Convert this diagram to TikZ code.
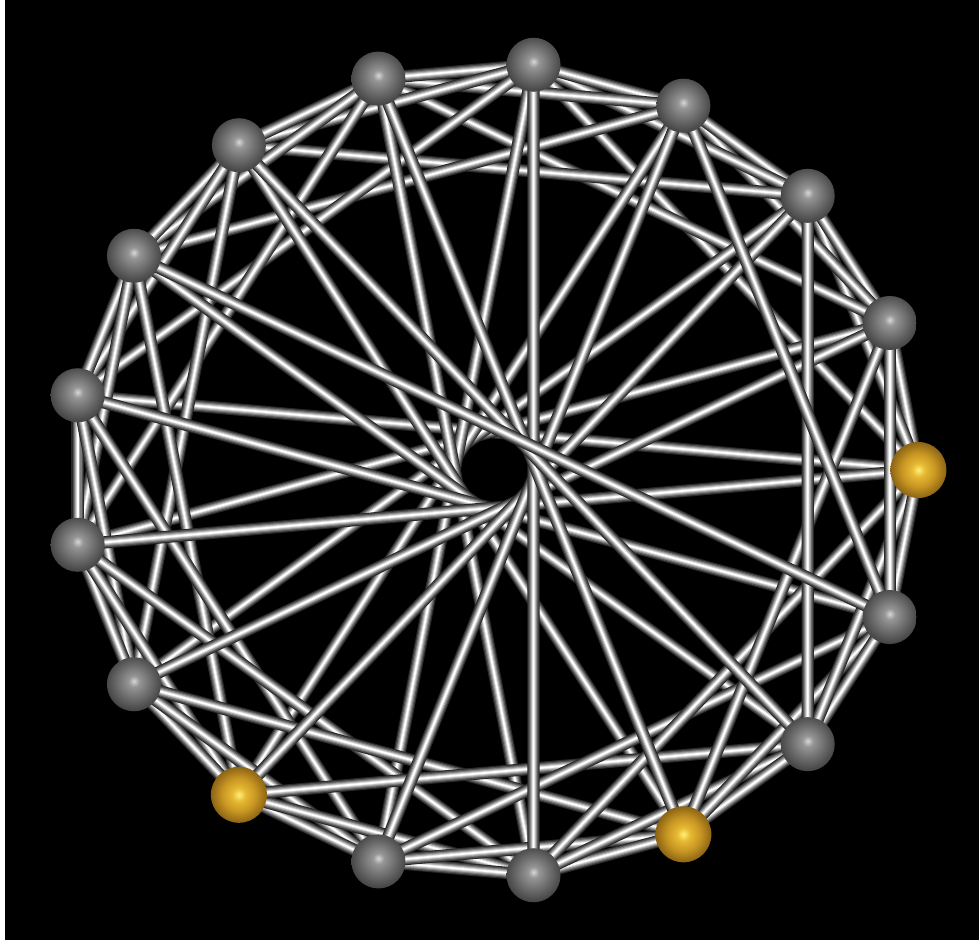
\documentclass[tikz,border=0pt]{standalone}
\pgfdeclarelayer{bg}
\pgfdeclarelayer{edges}
\pgfsetlayers{bg,edges,main}
\definecolor{tubeA}{RGB}{40,40,40}
\definecolor{tubeB}{RGB}{80,80,80}
\definecolor{tubeC}{RGB}{125,125,125}
\definecolor{tubeD}{RGB}{170,170,170}
\definecolor{tubeE}{RGB}{215,215,215}
\definecolor{gsA}{RGB}{215,215,215}
\definecolor{gsB}{RGB}{150,150,150}
\definecolor{gsC}{RGB}{118,118,118}
\definecolor{gsD}{RGB}{72,72,72}
\definecolor{ygA}{RGB}{255,240,120}
\definecolor{ygB}{RGB}{230,185,50}
\definecolor{ygC}{RGB}{200,150,35}
\definecolor{ygD}{RGB}{140,100,20}
\pgfdeclareradialshading{graysph}{\pgfqpoint{0bp}{3bp}}{color(0bp)=(gsA); color(5bp)=(gsB); color(13bp)=(gsC); color(25bp)=(gsD); color(50bp)=(black)}
\pgfdeclareradialshading{goldsph}{\pgfqpoint{0bp}{0bp}}{color(0bp)=(ygA); color(6bp)=(ygB); color(15bp)=(ygC); color(25bp)=(ygD); color(50bp)=(black)}
\begin{document}
\begin{tikzpicture}[x=0.01cm,y=-0.01cm,
  tube/.style={white, line width=0.5pt,
    preaction={draw, tubeA, line width=3.5pt},
    preaction={draw, tubeB, line width=2.9pt},
    preaction={draw, tubeC, line width=2.2pt},
    preaction={draw, tubeD, line width=1.6pt},
    preaction={draw, tubeE, line width=1.0pt}},
  sphere/.style={circle, inner sep=0pt, minimum size=0.54cm, shading=graysph},
  goldsphere/.style={circle, inner sep=0pt, minimum size=0.56cm, shading=goldsph}]
\begin{pgfonlayer}{bg}
\fill[black] (0,0) rectangle (979,940);
\fill[white] (0,0) rectangle (5,940);
\end{pgfonlayer}
\foreach \k in {0,...,16}{
  \pgfmathsetmacro\px{494.4+424*cos(\k*360/17)}
  \pgfmathsetmacro\py{470-407*sin(\k*360/17)}
  \ifnum\k=0
    \node[goldsphere] (n\k) at (\px,\py) {};
  \else\ifnum\k=11
    \node[goldsphere] (n\k) at (\px,\py) {};
  \else\ifnum\k=14
    \node[goldsphere] (n\k) at (\px,\py) {};
  \else
    \node[sphere] (n\k) at (\px,\py) {};
  \fi\fi\fi
}
\begin{pgfonlayer}{edges}
\foreach \k in {0,...,16}{
  \foreach \j in {1,2,4,8}{
    \pgfmathtruncatemacro\m{mod(\k+\j,17)}
    \draw[tube] (n\k.center) -- (n\m.center);
  }
}
\end{pgfonlayer}
\end{tikzpicture}
\end{document}
